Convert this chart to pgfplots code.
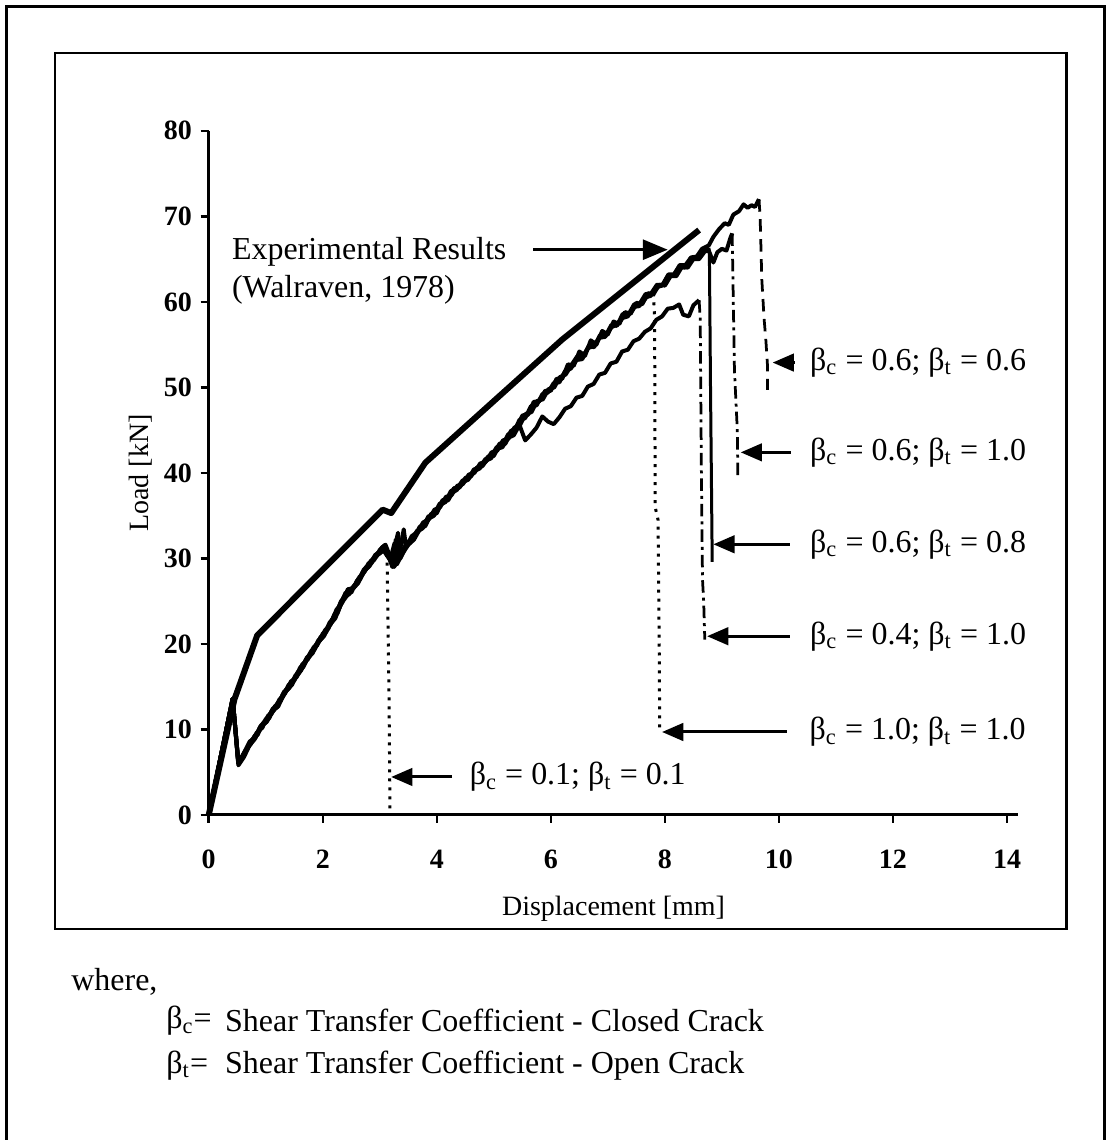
\documentclass[border=0pt]{standalone}
\usepackage{fontspec}
\setmainfont{Liberation Serif}
\usepackage{pgfplots}
\pgfplotsset{compat=1.18}
\usetikzlibrary{arrows.meta}

\newcommand{\bc}{β\textsubscript{c}}
\newcommand{\bt}{β\textsubscript{t}}

\begin{document}
\begin{tikzpicture}
% frame and notes, in pixel units of the reference (origin of data at px 209,816)
\begin{scope}[shift={(-83.6pt,326.4pt)},x=0.4pt,y=-0.4pt]
\path (0,0) rectangle (1109,1141);
\draw[line width=1.2pt] (7,1141) -- (7,7) -- (1106,7) -- (1106,1141);
\draw[line width=1pt] (55,53) rectangle (1068,930);
\begin{scope}[every node/.style={anchor=west,inner sep=0pt,font=\fontsize{12.8}{15}\selectfont}]
\node at (71,983) {where,};
\node at (166,1022) {\bc=};
\node at (225,1022) {Shear Transfer Coefficient - Closed Crack};
\node at (166,1067) {\bt=};
\node at (225,1067) {Shear Transfer Coefficient - Open Crack};
\end{scope}
\end{scope}

\begin{axis}[
  scale only axis, width=324.3pt, height=274pt,
  xmin=0, xmax=14.2, ymin=0, ymax=80,
  axis x line=bottom, axis y line=left,
  axis line style={line width=1.2pt,-},
  xtick={0,2,...,14}, ytick={0,10,...,80},
  tick align=outside, major tick length=3.2pt,
  tick style={line width=1pt,black},
  /pgf/number format/assume math mode=true,
  ticklabel style={font=\bfseries\fontsize{11.2}{13}\selectfont},
  xticklabel style={yshift=-7.2pt},
  xlabel={Displacement [mm]}, ylabel={Load [kN]},
  label style={font=\fontsize{11.2}{13}\selectfont},
  xlabel style={at={([yshift=-37.6pt]axis description cs:0.5,0)},anchor=center},
  ylabel style={at={([xshift=-27.2pt]axis description cs:0,0.5)},anchor=center},
  clip=false,
  line join=round,
  sim/.style={black, line width=1.6pt},
]
% Experimental
\addplot[black, line width=2.4pt] coordinates {
(0,0) (0.45,13.5) (0.85,21) (3.05,35.7) (3.2,35.3) (3.8,41.2) (6.2,55.6) (8.6,68.4)};

% beta_c=0.1; beta_t=0.1
\addplot[sim] coordinates {
(0,0) (0.42,13.6) (0.52,6.0) (0.62,7.2) (0.70,8.0) (0.80,9.2) (0.90,10.0) (1.00,11.2)
(1.10,11.8) (1.20,13.0) (1.30,13.8) (1.40,15.2) (1.50,15.7) (1.60,17.2) (1.70,17.9)
(1.80,19.2) (1.90,19.8) (2.00,21.2) (2.10,21.8) (2.20,23.4) (2.30,24.3) (2.40,26.0)
(2.50,26.0) (2.60,27.4) (2.70,28.1) (2.80,29.4) (2.90,29.8) (3.00,31.0) (3.10,31.6)};
\addplot[black, line width=1.2pt, dash pattern=on 1.2pt off 2.4pt] coordinates {
(3.10,31.6) (3.13,29.5) (3.16,15) (3.18,0)};

% beta_c=1.0; beta_t=1.0
\addplot[sim] coordinates {
(0,0) (0.42,13.6) (0.52,6.2) (0.60,7.0) (0.72,8.6) (0.82,9.0) (0.92,10.4) (1.02,10.9)
(1.12,12.2) (1.22,12.7) (1.32,14.2) (1.42,14.9) (1.52,16.0) (1.62,16.9) (1.72,18.2)
(1.82,18.9) (1.92,20.2) (2.02,20.9) (2.12,22.2) (2.22,23.0) (2.32,24.7) (2.42,25.6)
(2.52,26.4) (2.62,27.1) (2.72,28.5) (2.82,29.1) (2.92,30.2) (3.02,30.7) (3.10,31.4)
(3.22,29.0) (3.30,30.2) (3.40,31.0) (3.50,31.9) (3.60,32.4) (3.70,33.7) (3.80,34.0)
(3.90,35.0) (4.00,35.3) (4.10,36.7) (4.20,36.8) (4.30,38.0) (4.40,38.3) (4.50,39.2)
(4.60,39.6) (4.70,40.5) (4.80,40.8) (4.90,41.7) (5.00,42.0) (5.10,43.2) (5.20,43.4)
(5.30,44.7) (5.40,45.3) (5.50,46.5) (5.60,46.8) (5.70,48.0) (5.80,48.4) (5.90,49.5)
(6.00,49.8) (6.10,50.9) (6.20,51.3) (6.30,52.4) (6.40,52.8) (6.50,53.8) (6.60,54.0)
(6.70,55.1) (6.80,55.3) (6.90,56.2) (7.00,56.4) (7.10,57.4) (7.20,57.6) (7.30,58.5)
(7.40,58.7) (7.50,59.7) (7.60,59.8) (7.70,60.8) (7.80,61.0)};
\addplot[black, line width=1.2pt, dash pattern=on 1.2pt off 2.4pt] coordinates {
(7.80,61.0) (7.82,58) (7.83,36) (7.88,34.5) (7.90,20) (7.91,9.7)};

% beta_c=0.4; beta_t=1.0
\addplot[sim] coordinates {
(0,0) (0.42,13.6) (0.52,5.8) (0.62,6.8) (0.72,8.2) (0.80,8.8) (0.90,10.3) (1.00,10.8)
(1.10,12.1) (1.20,12.6) (1.30,14.1) (1.40,14.8) (1.50,15.9) (1.60,16.8) (1.70,18.1)
(1.80,18.8) (1.90,20.1) (2.00,20.8) (2.10,22.1) (2.20,23.0) (2.30,24.6) (2.40,25.9)
(2.50,26.3) (2.60,27.0) (2.70,28.4) (2.80,29.0) (2.90,30.1) (3.00,30.6) (3.10,31.2)
(3.20,29.5) (3.32,33.0) (3.36,30.0) (3.45,31.2) (3.55,32.0) (3.65,33.0) (3.75,33.6)
(3.85,34.6) (3.95,35.0) (4.05,36.2) (4.15,36.6) (4.25,37.6) (4.35,38.0) (4.45,38.9)
(4.55,39.2) (4.65,40.2) (4.75,40.5) (4.85,41.4) (4.95,41.7) (5.05,42.8) (5.15,43.0)
(5.25,44.1) (5.35,44.4) (5.45,45.6) (5.55,43.8) (5.65,44.5) (5.75,45.3) (5.85,46.6)
(5.95,46.0) (6.05,45.7) (6.15,46.5) (6.25,47.5) (6.35,47.8) (6.45,48.8) (6.55,49.0)
(6.65,50.1) (6.75,50.4) (6.85,51.5) (6.95,51.7) (7.05,52.8) (7.15,53.0) (7.25,54.2)
(7.35,54.4) (7.45,55.4) (7.55,55.7) (7.65,56.5) (7.75,56.9) (7.85,57.9) (7.95,58.3)
(8.05,59.2) (8.15,59.3) (8.25,59.7) (8.32,58.5) (8.42,58.3) (8.50,59.6) (8.60,60.2)};
\addplot[black, line width=1.1pt, dash pattern=on 5pt off 2pt on 1.2pt off 2pt] coordinates {
(8.60,60.2) (8.62,58) (8.64,40) (8.66,27.5) (8.68,25) (8.70,20.5)};

% beta_c=0.6; beta_t=0.8
\addplot[sim] coordinates {
(0,0) (0.42,13.6) (0.52,6.1) (0.64,7.5) (0.74,8.3) (0.84,9.6) (0.94,10.2) (1.04,11.6)
(1.14,12.2) (1.24,13.5) (1.34,14.2) (1.44,15.6) (1.54,16.1) (1.64,17.6) (1.74,18.2)
(1.84,19.6) (1.94,20.3) (2.04,21.6) (2.14,22.3) (2.24,24.0) (2.34,24.8) (2.44,26.4)
(2.54,26.5) (2.64,27.8) (2.74,28.5) (2.84,29.7) (2.94,30.2) (3.04,31.3) (3.10,31.6)
(3.24,29.2) (3.28,32.2) (3.32,29.6) (3.42,33.4) (3.46,31.3) (3.56,32.6) (3.66,33.1)
(3.76,34.2) (3.86,34.6) (3.96,35.7) (4.06,36.0) (4.16,37.2) (4.26,37.4) (4.36,38.5)
(4.46,38.7) (4.56,39.8) (4.66,40.0) (4.76,41.1) (4.86,41.3) (4.96,42.4) (5.06,42.6)
(5.16,43.8) (5.26,44.0) (5.36,45.3) (5.46,45.6) (5.56,46.9) (5.66,47.1) (5.76,48.4)
(5.86,48.6) (5.96,49.8) (6.06,50.0) (6.16,51.2) (6.26,51.5) (6.36,52.6) (6.46,53.6)
(6.56,53.5) (6.66,54.8) (6.76,54.7) (6.86,56.1) (6.96,56.0) (7.06,57.3) (7.16,57.2)
(7.26,58.6) (7.36,58.5) (7.46,59.7) (7.56,59.8) (7.66,60.9) (7.76,61.0) (7.86,62.0)
(7.96,62.0) (8.06,63.2) (8.16,63.2) (8.26,64.3) (8.36,64.3) (8.46,65.2) (8.56,65.3)
(8.66,66.0) (8.77,66.3)};
\addplot[black, line width=1.2pt] coordinates {
(8.77,66.3) (8.78,66.0) (8.80,50) (8.83,29.6)};

% beta_c=0.6; beta_t=1.0
\addplot[sim] coordinates {
(0,0) (0.42,13.6) (0.52,6.0) (0.66,7.6) (0.76,8.8) (0.86,9.4) (0.96,10.8) (1.06,11.3)
(1.16,12.7) (1.26,13.3) (1.36,14.7) (1.46,15.2) (1.56,16.7) (1.66,17.3) (1.76,18.7)
(1.86,19.4) (1.96,20.8) (2.06,21.4) (2.16,22.8) (2.26,23.6) (2.36,25.4) (2.46,25.8)
(2.56,26.9) (2.66,27.6) (2.76,29.0) (2.86,29.5) (2.96,30.6) (3.06,31.0) (3.18,29.8)
(3.26,31.8) (3.30,29.3) (3.40,30.6) (3.50,31.6) (3.60,32.2) (3.70,33.4) (3.80,33.8)
(3.90,35.2) (4.00,35.4) (4.10,36.8) (4.20,37.0) (4.30,38.2) (4.40,38.4) (4.50,39.4)
(4.60,39.7) (4.70,40.6) (4.80,41.0) (4.90,41.9) (5.00,42.3) (5.10,43.4) (5.20,43.7)
(5.30,44.9) (5.40,45.3) (5.50,46.7) (5.60,46.9) (5.70,48.3) (5.80,48.4) (5.90,49.6)
(6.00,49.6) (6.10,51.0) (6.20,51.0) (6.30,52.7) (6.40,52.5) (6.50,54.2) (6.60,53.7)
(6.70,55.5) (6.80,55.0) (6.90,56.6) (7.00,56.2) (7.10,57.7) (7.20,57.4) (7.30,58.8)
(7.40,58.6) (7.50,59.9) (7.60,59.7) (7.70,61.0) (7.80,60.9) (7.90,62.0) (8.00,61.9)
(8.10,63.0) (8.20,63.0) (8.30,64.1) (8.40,64.0) (8.50,65.0) (8.60,65.0) (8.70,65.9)
(8.77,66.0) (8.85,64.6) (8.92,65.8) (9.00,66.2) (9.08,66.0) (9.15,67.5) (9.18,68.0)};
\addplot[black, line width=1.1pt, dash pattern=on 5pt off 2pt on 1.2pt off 2pt] coordinates {
(9.18,68.0) (9.19,64) (9.22,52) (9.27,45) (9.28,39.6)};

% beta_c=0.6; beta_t=0.6
\addplot[sim] coordinates {
(0,0) (0.42,13.6) (0.52,6.0) (0.62,7.0) (0.72,8.4) (0.82,9.2) (0.92,10.5) (1.02,11.1)
(1.12,12.4) (1.22,13.0) (1.32,14.4) (1.42,15.0) (1.52,16.3) (1.62,17.0) (1.72,18.4)
(1.82,19.0) (1.92,20.4) (2.02,21.0) (2.12,22.5) (2.22,23.3) (2.32,25.0) (2.42,25.7)
(2.52,26.6) (2.62,27.3) (2.72,28.7) (2.82,29.3) (2.92,30.4) (3.02,30.9) (3.10,31.3)
(3.25,29.0) (3.35,30.0) (3.45,31.5) (3.55,32.0) (3.65,33.2) (3.75,33.5) (3.85,34.9)
(3.95,35.1) (4.05,36.4) (4.15,36.6) (4.25,37.9) (4.35,38.1) (4.45,39.1) (4.55,39.3)
(4.65,40.4) (4.75,40.6) (4.85,41.6) (4.95,41.9) (5.05,43.0) (5.15,43.2) (5.25,44.5)
(5.35,44.8) (5.45,46.2) (5.55,46.4) (5.65,47.8) (5.75,47.9) (5.85,49.2) (5.95,49.4)
(6.05,50.5) (6.15,50.6) (6.25,51.9) (6.35,52.2) (6.45,53.2) (6.55,53.3) (6.65,54.6)
(6.75,54.8) (6.85,55.8) (6.95,55.9) (7.05,57.0) (7.15,57.3) (7.25,58.1) (7.35,58.3)
(7.45,59.4) (7.55,59.5) (7.65,60.5) (7.75,60.7) (7.85,61.7) (7.95,61.9) (8.05,62.9)
(8.15,63.1) (8.25,64.1) (8.35,64.0) (8.45,65.1) (8.55,65.2) (8.65,66.2) (8.77,66.6)
(8.85,67.6) (8.95,68.5) (9.05,69.2) (9.12,69.0) (9.20,70.2) (9.30,70.6) (9.38,71.4)
(9.45,71.0) (9.52,71.3) (9.58,71.1) (9.65,72.0)};
\addplot[black, line width=1.1pt, dash pattern=on 5pt off 3pt] coordinates {
(9.65,72.0) (9.67,70) (9.70,62.6) (9.74,58) (9.77,55.6) (9.80,52.5) (9.80,49.7)};

% annotations
\node[anchor=west, inner sep=0pt, align=left, font=\fontsize{12.8}{15.2}\selectfont]
  at (axis cs:0.40,63.65) {Experimental Results\\(Walraven, 1978)};
\draw[line width=1.2pt, -{Triangle[length=10pt,width=8pt]}] (axis cs:5.69,66.1) -- (axis cs:8.05,66.1);

\begin{scope}[every node/.style={anchor=west, inner sep=0pt, font=\fontsize{12.8}{15}\selectfont},
  arr/.style={line width=1.2pt, -{Triangle[length=8.5pt,width=7pt]}}]
\draw[arr] (axis cs:10.28,52.9) -- (axis cs:9.89,52.9);
\node at (axis cs:10.54,52.9) {\bc{} = 0.6; \bt{} = 0.6};
\draw[arr] (axis cs:10.21,42.4) -- (axis cs:9.33,42.4);
\node at (axis cs:10.54,42.4) {\bc{} = 0.6; \bt{} = 1.0};
\draw[arr] (axis cs:10.19,31.65) -- (axis cs:8.85,31.65);
\node at (axis cs:10.54,31.65) {\bc{} = 0.6; \bt{} = 0.8};
\draw[arr] (axis cs:10.19,20.9) -- (axis cs:8.74,20.9);
\node at (axis cs:10.54,20.9) {\bc{} = 0.4; \bt{} = 1.0};
\draw[arr] (axis cs:10.14,9.7) -- (axis cs:7.95,9.7);
\node at (axis cs:10.53,9.7) {\bc{} = 1.0; \bt{} = 1.0};
\draw[arr] (axis cs:4.27,4.44) -- (axis cs:3.20,4.44);
\node at (axis cs:4.57,4.44) {\bc{} = 0.1; \bt{} = 0.1};
\end{scope}
\end{axis}
\end{tikzpicture}
\end{document}
